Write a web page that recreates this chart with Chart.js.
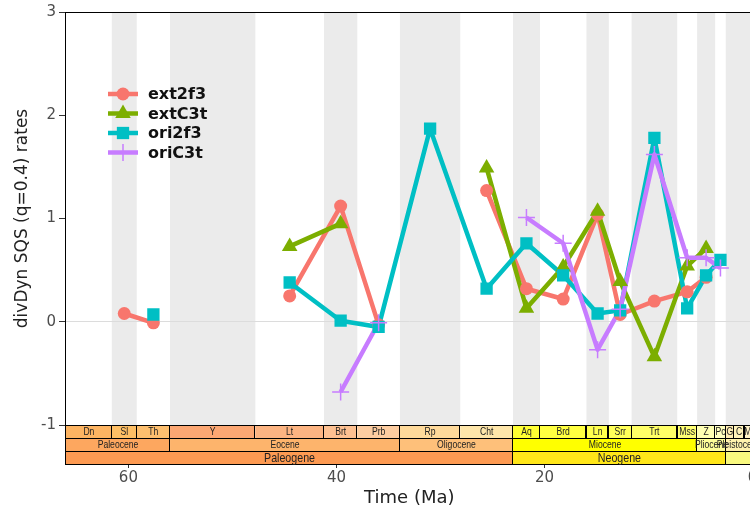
<!DOCTYPE html>
<html>
<head>
<meta charset="utf-8">
<script src="https://cdn.jsdelivr.net/npm/chart.js@4.4.1/dist/chart.umd.min.js"></script>
<style>
  html, body { margin: 0; padding: 0; background: #fff; overflow: hidden; }
  #wrap { width: 770px; height: 514px; position: relative; }
</style>
</head>
<body>
<div id="wrap"><canvas id="ratesChart"></canvas></div>
<script>
// time bins (Ma) used for the rates, plus their shading
const binNames  = ['Danian','Selandian','Thanetian','Ypresian','Lutetian','Bartonian','Priabonian','Rupelian','Chattian',
                   'Aquitanian','Burdigalian','Langhian','Serravallian','Tortonian','Messinian','Zanclean','Piacenzian','Pleistocene'];
const binBottom = [66.0, 61.6, 59.2, 56.0, 47.8, 41.2, 38.0, 33.9, 28.1, 23.03, 20.44, 15.97, 13.82, 11.63, 7.246, 5.333, 3.6, 2.58];
const binTop    = [61.6, 59.2, 56.0, 47.8, 41.2, 38.0, 33.9, 28.1, 23.03, 20.44, 15.97, 13.82, 11.63, 7.246, 5.333, 3.6, 2.58, 0.0117];
const binMid    = [63.8, 60.4, 57.6, 51.9, 44.5, 39.6, 35.95, 31.0, 25.57, 21.74, 18.21, 14.9, 12.73, 9.44, 6.29, 4.47, 3.09, 1.3];

// divDyn SQS (q=0.4) rates per bin
const ext2f3 = [null, 0.08, -0.01, null, 0.25, 1.12, -0.03, null, 1.27, 0.32, 0.22, 1.04, 0.07, 0.20, 0.29, 0.43, null, null];
const extC3t = [null, null, null, null, 0.73, 0.95, null, null, 1.49, 0.13, 0.53, 1.07, 0.39, -0.34, 0.54, 0.71, null, null];
const ori2f3 = [null, null, 0.07, null, 0.38, 0.01, -0.05, 1.87, 0.32, 0.76, 0.45, 0.08, 0.11, 1.78, 0.13, 0.45, 0.60, null];
const oriC3t = [null, null, null, null, null, -0.68, -0.01, null, null, 1.01, 0.76, -0.27, 0.12, 1.62, 0.62, 0.62, 0.52, null];

const seriesNames = ['ext2f3', 'extC3t', 'ori2f3', 'oriC3t'];
const xTicks = [60, 40, 20, 0];

// geological time scale rows (blank label = not printed)
const stageAbbr   = ['Dn','Sl','Th','Y','Lt','Brt','Prb','Rp','Cht','Aq','Brd','Ln','Srr','Trt','Mss','Z','Pc','G','C','M','',''];
const stageBottom = [66.0, 61.6, 59.2, 56.0, 47.8, 41.2, 38.0, 33.9, 28.1, 23.03, 20.44, 15.97, 13.82, 11.63, 7.246, 5.333, 3.6, 2.58, 1.8, 0.781, 0.126, 0.0117];
const stageTop    = [61.6, 59.2, 56.0, 47.8, 41.2, 38.0, 33.9, 28.1, 23.03, 20.44, 15.97, 13.82, 11.63, 7.246, 5.333, 3.6, 2.58, 1.8, 0.781, 0.126, 0.0117, 0];
const epochNames  = ['Paleocene','Eocene','Oligocene','Miocene','Pliocene','Pleistocene',''];
const epochBottom = [66.0, 56.0, 33.9, 23.03, 5.333, 2.58, 0.0117];
const epochTop    = [56.0, 33.9, 23.03, 5.333, 2.58, 0.0117, 0];
const periodNames  = ['Paleogene','Neogene',''];
const periodBottom = [66.0, 23.03, 2.58];
const periodTop    = [23.03, 2.58, 0];

const stageColors  = ['#FDB462','#FEBF65','#FDBF6F','#FCA773','#FCB482','#FDC091','#FDCDA1','#FED99A','#FEE6AA',
                      '#FFFF33','#FFFF41','#FFFF4D','#FFFF59','#FFFF66','#FFFF73','#FFFFB3','#FFFFBF','#FFEDB3','#FFF2BA','#FFF2C7','#FFF2D3','#FEF2E0'];
const epochColors  = ['#FDA75F','#FDB46C','#FEC07A','#FFFF00','#FFFF99','#FFF2AE','#FEF2E0'];
const periodColors = ['#FD9A52','#FFE619','#F9F97F'];

const FONT = "'DejaVu Sans', sans-serif";
const SCALE_FONT = "'Liberation Sans', sans-serif";

const styles = [
    { color: '#F8766D', pointStyle: 'circle',   radius: 6.5, pw: 0 },
    { color: '#7CAE00', pointStyle: 'triangle', radius: 9,   pw: 0 },
    { color: '#00BFC4', pointStyle: 'rect',     radius: 8.7, pw: 0 },
    { color: '#C77CFF', pointStyle: 'cross',    radius: 8.5, pw: 1.5 }
];
const allSeries = [ext2f3, extC3t, ori2f3, oriC3t];

const toXY = vals => binMid.map((m, i) => ({ x: m, y: vals[i] }));

// lines first, points on top of every line
const datasets = [];
allSeries.forEach((vals, i) => {
    datasets.push({
        label: seriesNames[i], data: toXY(vals), order: 8 - i,
        borderColor: styles[i].color, borderWidth: 4.5, pointRadius: 0,
        borderJoinStyle: 'round', spanGaps: false, tension: 0
    });
});
allSeries.forEach((vals, i) => {
    datasets.push({
        label: seriesNames[i] + ' pts', data: toXY(vals), order: 4 - i, showLine: false,
        pointStyle: styles[i].pointStyle, pointRadius: styles[i].radius,
        pointBackgroundColor: styles[i].color, pointBorderColor: styles[i].color,
        pointBorderWidth: styles[i].pw
    });
});

const bandsPlugin = {
    id: 'bands',
    beforeDraw(chart) {
        const { ctx, chartArea: a, scales: { x } } = chart;
        ctx.save();
        ctx.fillStyle = '#fff';
        ctx.fillRect(0, 0, chart.width, chart.height);
        ctx.beginPath();
        ctx.rect(a.left, a.top, a.right - a.left, a.bottom - a.top);
        ctx.clip();
        ctx.fillStyle = '#EBEBEB';
        binBottom.forEach((b, i) => {
            if (i % 2 === 0) return;
            const x0 = x.getPixelForValue(b), x1 = x.getPixelForValue(binTop[i]);
            ctx.fillRect(Math.min(x0, x1), a.top, Math.abs(x1 - x0), a.bottom - a.top);
        });
        ctx.restore();
    }
};

const framePlugin = {
    id: 'frame',
    afterDatasetsDraw(chart) {
        const { ctx, chartArea: a } = chart;
        ctx.save();
        ctx.strokeStyle = '#000';
        ctx.lineWidth = 1;
        ctx.strokeRect(Math.round(a.left) - 0.5, Math.round(a.top) + 0.5, a.right - a.left, a.bottom - a.top);
        ctx.restore();

        // legend: line + marker + label
        const meta = chart.data.datasets;
        ctx.save();
        seriesNames.forEach((name, i) => {
            const cy = a.top + 82 + i * 19.5;
            const cx = a.left + 57;
            ctx.strokeStyle = styles[i].color;
            ctx.fillStyle = styles[i].color;
            ctx.lineWidth = 4.5;
            ctx.beginPath();
            ctx.moveTo(cx - 15, cy);
            ctx.lineTo(cx + 15, cy);
            ctx.stroke();
            ctx.lineWidth = styles[i].pw;
            Chart.helpers.drawPoint(ctx, {
                pointStyle: meta[4 + i].pointStyle, radius: styles[i].radius,
                borderWidth: styles[i].pw, rotation: 0
            }, cx, cy);
            ctx.fillStyle = '#111';
            ctx.font = 'bold 16px ' + FONT;
            ctx.textAlign = 'left';
            ctx.textBaseline = 'middle';
            ctx.fillText(name, cx + 25, cy + 1);
        });
        ctx.restore();
    }
};

function drawScaleRow(ctx, x, y, h, names, bottoms, tops, colors, fontSize) {
    const boxes = names.map((n, i) => {
        const x0 = x.getPixelForValue(bottoms[i]), x1 = x.getPixelForValue(tops[i]);
        return { n, l: Math.min(x0, x1), r: Math.max(x0, x1), c: colors[i] };
    });
    boxes.forEach(b => { ctx.fillStyle = b.c; ctx.fillRect(b.l, y, b.r - b.l, h); });
    ctx.strokeStyle = '#000';
    ctx.lineWidth = 1;
    boxes.forEach(b => { ctx.strokeRect(Math.round(b.l) - 0.5, Math.round(y) + 0.5, Math.round(b.r - b.l), h); });
    // condensed labels, squeezed horizontally
    const squeeze = 0.82;
    ctx.fillStyle = '#222';
    ctx.font = fontSize + 'px ' + SCALE_FONT;
    ctx.textAlign = 'center';
    ctx.textBaseline = 'middle';
    boxes.forEach(b => {
        if (!b.n) return;
        ctx.save();
        ctx.translate((b.l + b.r) / 2, y + h / 2 + 1);
        ctx.scale(squeeze, 1);
        ctx.fillText(b.n, 0, 0);
        ctx.restore();
    });
}

const timescalePlugin = {
    id: 'timescale',
    afterDraw(chart) {
        const { ctx, chartArea: a, scales: { x } } = chart;
        const h = 13;
        ctx.save();
        ctx.beginPath();
        ctx.rect(a.left - 1, a.bottom - 1, a.right - a.left + 2, 3 * h + 3);
        ctx.clip();
        drawScaleRow(ctx, x, a.bottom, h, stageAbbr, stageBottom, stageTop, stageColors, 10.5);
        drawScaleRow(ctx, x, a.bottom + h, h, epochNames, epochBottom, epochTop, epochColors, 10.5);
        drawScaleRow(ctx, x, a.bottom + 2 * h, h, periodNames, periodBottom, periodTop, periodColors, 13);
        ctx.restore();
    }
};

new Chart(document.getElementById('ratesChart'), {
    type: 'line',
    data: { datasets },
    options: {
        responsive: true,
        maintainAspectRatio: false,
        animation: false,
        events: [],
        layout: { padding: { top: 12, right: 17.4, bottom: 0, left: 0 } },
        plugins: { legend: { display: false }, tooltip: { enabled: false } },
        scales: {
            x: {
                type: 'linear', reverse: true, min: 0, max: 66,
                afterBuildTicks: s => { s.ticks = xTicks.map(v => ({ value: v })); },
                afterFit: s => { s.height = 89; },
                border: { display: false },
                grid: { drawOnChartArea: false, tickLength: 43, tickColor: '#333' },
                ticks: { color: '#4D4D4D', font: { family: FONT, size: 15 }, padding: 1, maxRotation: 0, autoSkip: false },
                title: { display: true, text: 'Time (Ma)', color: '#222', font: { family: FONT, size: 18 }, padding: { top: 0, bottom: 5 } }
            },
            y: {
                min: -1, max: 3,
                afterFit: s => { s.width = 66; },
                border: { display: false },
                grid: {
                    color: c => (c.tick && c.tick.value === 0) ? '#DCDCDC' : 'rgba(0,0,0,0)',
                    tickColor: '#333', tickLength: 7, lineWidth: 1
                },
                ticks: { stepSize: 1, color: '#4D4D4D', font: { family: FONT, size: 15 }, padding: 3 },
                title: { display: true, text: 'divDyn SQS (q=0.4) rates', color: '#222', font: { family: FONT, size: 17 }, padding: { top: 12, bottom: 0 } }
            }
        }
    },
    plugins: [bandsPlugin, framePlugin, timescalePlugin]
});
</script>
</body>
</html>
